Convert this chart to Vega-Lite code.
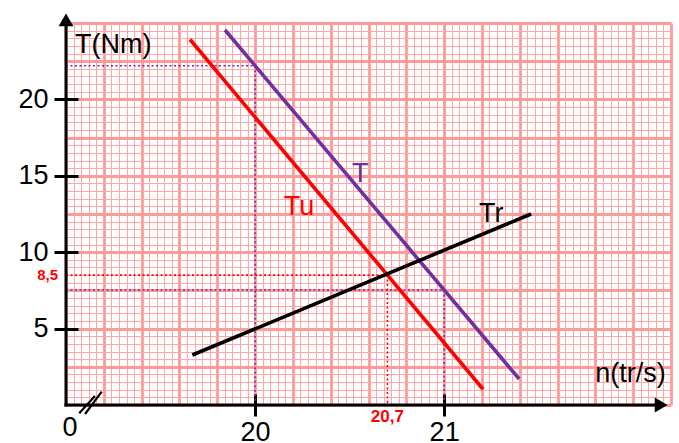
{
  "$schema": "https://vega.github.io/schema/vega-lite/v6.json",
  "width": 605,
  "height": 382,
  "autosize": {"type": "none"},
  "padding": {"left": 66, "top": 23, "right": 8, "bottom": 38},
  "background": "white",
  "config": {"view": {"stroke": null}, "font": "Liberation Sans"},
  "resolve": {"axis": {"x": "independent", "y": "independent"}},
  "datasets": {
    "lines": [
      {"curve": "Tu", "n": 19.656, "T": 23.92},
      {"curve": "Tu", "n": 21.206, "T": 1.03},
      {"curve": "T", "n": 19.841, "T": 24.54},
      {"curve": "T", "n": 21.397, "T": 1.70},
      {"curve": "Tr", "n": 19.668, "T": 3.27},
      {"curve": "Tr", "n": 21.46, "T": 12.5}
    ],
    "guides": [
      {"curve": "T", "n1": 19, "T1": 22.2, "n2": 20, "T2": 22.2},
      {"curve": "T", "n1": 20, "T1": 22.2, "n2": 20, "T2": 0},
      {"curve": "T", "n1": 19, "T1": 7.53, "n2": 21, "T2": 7.53},
      {"curve": "T", "n1": 21, "T1": 7.53, "n2": 21, "T2": 0},
      {"curve": "Tu", "n1": 19, "T1": 8.5, "n2": 20.7, "T2": 8.5},
      {"curve": "Tu", "n1": 20.7, "T1": 8.5, "n2": 20.7, "T2": 0}
    ],
    "curveLabels": [
      {"curve": "Tu", "label": "Tu", "n": 20.233, "T": 12.43},
      {"curve": "T", "label": "T", "n": 20.556, "T": 14.59},
      {"curve": "Tr", "label": "Tr", "n": 21.249, "T": 11.98}
    ],
    "breakMarks": [
      {"n1": 19.070, "T1": -0.54, "n2": 19.153, "T2": 0.59},
      {"n1": 19.101, "T1": -0.59, "n2": 19.189, "T2": 0.87}
    ]
  },
  "layer": [
    {
      "data": {"name": "guides"},
      "mark": {"type": "rule", "strokeWidth": 1.6, "strokeDash": [2, 2.5]},
      "encoding": {
        "x": {"field": "n1", "type": "quantitative",
          "scale": {"domain": [19, 22.2], "nice": false, "zero": false},
          "axis": {
            "title": null,
            "values": [19,19.04,19.08,19.12,19.16,19.2,19.24,19.28,19.32,19.36,19.4,19.44,19.48,19.52,19.56,19.6,19.64,19.68,19.72,19.76,19.8,19.84,19.88,19.92,19.96,20,20.04,20.08,20.12,20.16,20.2,20.24,20.28,20.32,20.36,20.4,20.44,20.48,20.52,20.56,20.6,20.64,20.68,20.72,20.76,20.8,20.84,20.88,20.92,20.96,21,21.04,21.08,21.12,21.16,21.2,21.24,21.28,21.32,21.36,21.4,21.44,21.48,21.52,21.56,21.6,21.64,21.68,21.72,21.76,21.8,21.84,21.88,21.92,21.96,22,22.04,22.08,22.12,22.16,22.2],
            "orient": "bottom",
            "domain": false,
            "offset": -11,
            "tickSize": 22,
            "tickWidth": 3,
            "tickColor": {"condition": {"test": "datum.value == 20 || datum.value == 21", "value": "black"}, "value": "transparent"},
            "grid": true,
            "gridOpacity": 1,
            "gridColor": {"condition": {"test": "abs(datum.value * 5 - round(datum.value * 5)) < 0.001", "value": "#ff9a9a"}, "value": "#ffa6a6"},
            "gridWidth": {"condition": {"test": "abs(datum.value * 5 - round(datum.value * 5)) < 0.001", "value": 2.8}, "value": 1},
            "labelExpr": "datum.value == 20 ? '20' : datum.value == 21 ? '21' : ''",
            "labelOverlap": false,
            "labelFlush": false,
            "labelBound": false,
            "labelFontSize": 27,
            "labelColor": "black",
            "labelPadding": 3,
            "labelBaseline": "top"
          }
        },
        "x2": {"field": "n2"},
        "y": {"field": "T1", "type": "quantitative",
          "scale": {"domain": [0, 25], "nice": false, "zero": false},
          "axis": {
            "title": null,
            "values": [0,0.5,1,1.5,2,2.5,3,3.5,4,4.5,5,5.5,6,6.5,7,7.5,8,8.5,9,9.5,10,10.5,11,11.5,12,12.5,13,13.5,14,14.5,15,15.5,16,16.5,17,17.5,18,18.5,19,19.5,20,20.5,21,21.5,22,22.5,23,23.5,24,24.5,25],
            "orient": "left",
            "domain": false,
            "offset": -12,
            "tickSize": 24,
            "tickWidth": 3,
            "tickColor": {"condition": {"test": "datum.value % 5 == 0 && datum.value > 0 && datum.value < 25", "value": "black"}, "value": "transparent"},
            "grid": true,
            "gridOpacity": 1,
            "gridColor": {"condition": {"test": "datum.value % 2.5 == 0", "value": "#ff9a9a"}, "value": "#ffa6a6"},
            "gridWidth": {"condition": {"test": "datum.value % 2.5 == 0", "value": 2.8}, "value": 1},
            "labelExpr": "datum.value % 5 == 0 && datum.value > 0 && datum.value < 25 ? '' + datum.value : ''",
            "labelOverlap": false,
            "labelFlush": false,
            "labelBound": false,
            "labelFontSize": 27,
            "labelColor": "black",
            "labelPadding": 6,
            "labelBaseline": "middle"
          }
        },
        "y2": {"field": "T2"},
        "color": {"field": "curve", "type": "nominal",
          "scale": {"domain": ["Tu", "T", "Tr"], "range": ["#ff0000", "#7030a0", "#000000"]},
          "legend": null}
      }
    },
    {
      "data": {"name": "lines"},
      "mark": {"type": "line", "strokeWidth": 3.6, "strokeCap": "butt"},
      "encoding": {
        "x": {"field": "n", "type": "quantitative", "axis": null},
        "y": {"field": "T", "type": "quantitative", "axis": null},
        "color": {"field": "curve", "type": "nominal", "legend": null},
        "detail": {"field": "curve"}
      }
    },
    {
      "data": {"name": "curveLabels"},
      "mark": {"type": "text", "fontSize": 27, "align": "center", "baseline": "alphabetic"},
      "encoding": {
        "x": {"field": "n", "type": "quantitative", "axis": null},
        "y": {"field": "T", "type": "quantitative", "axis": null},
        "text": {"field": "label"},
        "color": {"field": "curve", "type": "nominal", "legend": null}
      }
    },
    {
      "data": {"values": [{"label": "T(Nm)", "n": 19.048, "T": 23.04}, {"label": "n(tr/s)", "n": 21.799, "T": 1.5}]},
      "mark": {"type": "text", "fontSize": 27, "align": "left", "baseline": "alphabetic", "color": "black"},
      "encoding": {
        "x": {"field": "n", "type": "quantitative", "axis": null},
        "y": {"field": "T", "type": "quantitative", "axis": null},
        "text": {"field": "label"}
      }
    },
    {
      "data": {"values": [{"label": "0", "n": 19, "T": 0}]},
      "mark": {"type": "text", "fontSize": 27, "align": "center", "baseline": "top", "dx": 4, "dy": 10, "color": "black"},
      "encoding": {
        "x": {"field": "n", "type": "quantitative", "axis": null},
        "y": {"field": "T", "type": "quantitative", "axis": null},
        "text": {"field": "label"}
      }
    },
    {
      "data": {"values": [{"label": "8,5", "n": 19, "T": 8.5}]},
      "mark": {"type": "text", "fontSize": 15, "fontWeight": "bold", "align": "right", "baseline": "middle", "dx": -8, "color": "#ff0000"},
      "encoding": {
        "x": {"field": "n", "type": "quantitative", "axis": null},
        "y": {"field": "T", "type": "quantitative", "axis": null},
        "text": {"field": "label"}
      }
    },
    {
      "data": {"values": [{"label": "20,7", "n": 20.7, "T": 0}]},
      "mark": {"type": "text", "fontSize": 17, "fontWeight": "bold", "align": "center", "baseline": "alphabetic", "dy": 17, "color": "#ff0000"},
      "encoding": {
        "x": {"field": "n", "type": "quantitative", "axis": null},
        "y": {"field": "T", "type": "quantitative", "axis": null},
        "text": {"field": "label"}
      }
    },
    {
      "data": {"values": [{"n1": 19, "T1": 0, "n2": 22.15, "T2": 0}, {"n1": 19, "T1": 0, "n2": 19, "T2": 25.3}]},
      "mark": {"type": "rule", "strokeWidth": 3, "color": "black", "strokeCap": "square"},
      "encoding": {
        "x": {"field": "n1", "type": "quantitative", "axis": null},
        "y": {"field": "T1", "type": "quantitative", "axis": null},
        "x2": {"field": "n2"},
        "y2": {"field": "T2"}
      }
    },
    {
      "data": {"name": "breakMarks"},
      "mark": {"type": "rule", "strokeWidth": 2.2, "color": "black"},
      "encoding": {
        "x": {"field": "n1", "type": "quantitative", "axis": null},
        "y": {"field": "T1", "type": "quantitative", "axis": null},
        "x2": {"field": "n2"},
        "y2": {"field": "T2"}
      }
    },
    {
      "data": {"values": [{"dir": "up", "n": 19, "T": 25.2}, {"dir": "right", "n": 22.148, "T": 0}]},
      "mark": {"type": "point", "filled": true, "opacity": 1, "color": "black", "size": 220},
      "encoding": {
        "x": {"field": "n", "type": "quantitative", "axis": null},
        "y": {"field": "T", "type": "quantitative", "axis": null},
        "shape": {"field": "dir", "type": "nominal",
          "scale": {"domain": ["up", "right"], "range": ["triangle-up", "triangle-right"]},
          "legend": null}
      }
    }
  ]
}
